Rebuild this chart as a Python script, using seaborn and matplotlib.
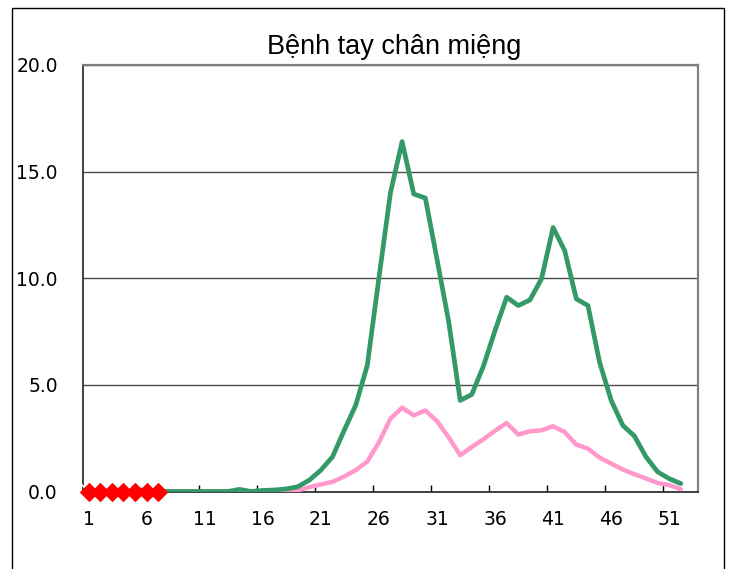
import matplotlib
matplotlib.use("Agg")
import matplotlib.pyplot as plt
import seaborn as sns
import numpy as np
import pandas as pd
from matplotlib.patches import Rectangle

# ---------------- data ----------------
weeks = list(range(1, 53))
series_green = [0, 0, 0, 0, 0, 0, 0, 0, 0, 0,
                0, 0, 0, 0.1, 0, 0.05, 0.07, 0.12, 0.22, 0.53,
                1.0, 1.62, 2.85, 4.04, 5.91, 10.0, 14.02, 16.41, 13.95, 13.76,
                10.9, 8.0, 4.27, 4.55, 5.88, 7.55, 9.11, 8.72, 8.98, 9.97,
                12.38, 11.29, 9.03, 8.72, 6.06, 4.27, 3.1, 2.6, 1.62, 0.92,
                0.6, 0.37]
series_pink = [0, 0, 0, 0, 0, 0, 0, 0, 0, 0,
               0, 0, 0, 0, 0, 0, 0, 0, 0.05, 0.2,
               0.33, 0.45, 0.7, 1.0, 1.4, 2.3, 3.42, 3.93, 3.57, 3.8,
               3.3, 2.55, 1.7, 2.09, 2.45, 2.85, 3.21, 2.67, 2.82, 2.87,
               3.06, 2.79, 2.2, 2.01, 1.59, 1.31, 1.03, 0.81, 0.61, 0.4,
               0.3, 0.11]
weeks_navy = [1, 2, 3, 4, 5, 6]
series_navy = [0, 0, 0, 0, 0, 0]
weeks_red = [1, 2, 3, 4, 5, 6, 7]
series_red = [0, 0, 0, 0, 0, 0, 0]

title = "Bệnh tay chân miệng"
x_ticks = [1, 6, 11, 16, 21, 26, 31, 36, 41, 46, 51]
y_ticks = [0, 5, 10, 15, 20]
y_labels = ["0.0", "5.0", "10.0", "15.0", "20.0"]

# ---------------- plot ----------------
sns.set_style("white")
plt.rcParams['font.family'] = ['DejaVu Sans']

fig = plt.figure(figsize=(7.32, 5.69), dpi=100)
ax = fig.add_axes([82.7 / 732, 1 - 491.5 / 569, (698.3 - 82.7) / 732, (491.5 - 65) / 569])

df_g = pd.DataFrame({"week": weeks, "value": series_green})
df_p = pd.DataFrame({"week": weeks, "value": series_pink})
df_n = pd.DataFrame({"week": weeks_navy, "value": series_navy})
df_r = pd.DataFrame({"week": weeks_red, "value": series_red})

sns.lineplot(data=df_p, x="week", y="value", ax=ax, color="#FF99CC", linewidth=3.2, zorder=3)
sns.lineplot(data=df_g, x="week", y="value", ax=ax, color="#339966", linewidth=3.4, zorder=4)
sns.lineplot(data=df_n, x="week", y="value", ax=ax, color="#000080", linewidth=1.0,
             linestyle=":", marker="x", markersize=13, markeredgewidth=1.2, zorder=5, clip_on=False)
sns.lineplot(data=df_r, x="week", y="value", ax=ax, color="#FF0000", linewidth=2.0,
             marker="D", markersize=9.5, markeredgecolor="#FF0000", zorder=6, clip_on=False)

ax.set_xlim(0.5, 53.5)
ax.set_ylim(0, 20)
ax.set_xlabel("")
ax.set_ylabel("")

ax.set_yticks(y_ticks)
ax.set_yticklabels(y_labels)
ax.set_xticks(x_ticks)
ax.set_xticklabels([str(t) for t in x_ticks])
ax.set_xticks([5.5 + 5 * k for k in range(10)], minor=True)

ax.tick_params(axis="x", which="major", length=0, pad=13, labelsize=13.5, colors="#000000")
ax.tick_params(axis="x", which="minor", length=5, width=1, direction="in", color="#000000", bottom=True)
ax.tick_params(axis="y", which="major", length=4, width=1, direction="in", pad=18,
               labelsize=13.5, colors="#000000")
for lab in ax.get_yticklabels() + ax.get_xticklabels():
    lab.set_color("#000000")

ax.yaxis.grid(True, color="#4d4d4d", linewidth=1.0)
ax.xaxis.grid(False)
ax.set_axisbelow(True)

ax.spines["left"].set_color("#333333")
ax.spines["left"].set_linewidth(1.3)
ax.spines["bottom"].set_color("#333333")
ax.spines["bottom"].set_linewidth(1.3)
ax.spines["top"].set_color("#808080")
ax.spines["top"].set_linewidth(1.6)
ax.spines["right"].set_color("#808080")
ax.spines["right"].set_linewidth(1.6)

fig.text(394 / 732, 1 - 54 / 569, title, ha="center", va="baseline",
         fontsize=19.5, family=["Liberation Sans", "DejaVu Sans"], color="#000000")

# outer chart-area border
fig.patches.append(Rectangle((12 / 732, -0.05), 712 / 732, 1.05 - 8 / 569,
                             transform=fig.transFigure, fill=False,
                             edgecolor="#000000", linewidth=1.0))

fig.savefig("out.png", dpi=100)
